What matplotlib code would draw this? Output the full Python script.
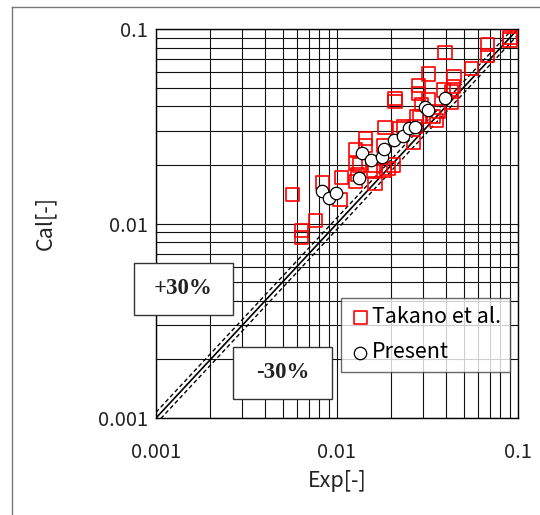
import numpy as np
import matplotlib.pyplot as plt
from matplotlib.patches import Rectangle
from matplotlib.lines import Line2D
from matplotlib.ticker import FixedLocator, NullFormatter

plt.rcParams['font.family'] = ['Noto Sans CJK JP', 'DejaVu Sans']

# Takano et al. (squares)
takano_exp = [0.00569, 0.00638, 0.00638, 0.00764, 0.00834, 0.0106, 0.0104, 0.0126,
              0.0127, 0.0130, 0.0126, 0.0133, 0.0143, 0.0143, 0.0159, 0.0162, 0.0162,
              0.0180, 0.0182, 0.0184, 0.0192, 0.0205, 0.0209, 0.0209, 0.0223, 0.0232,
              0.0264, 0.0270, 0.0276, 0.0281, 0.0281, 0.0287, 0.0294, 0.0320, 0.0320,
              0.0340, 0.0356, 0.0363, 0.0387, 0.0395, 0.0428, 0.0428, 0.0439, 0.0443,
              0.0555, 0.0677, 0.0677, 0.0904, 0.0904]
takano_cal = [0.0141, 0.00919, 0.00849, 0.0104, 0.0162, 0.0173, 0.0133, 0.0239,
              0.0204, 0.0178, 0.0164, 0.0200, 0.0274, 0.0253, 0.0185, 0.0200, 0.0161,
              0.0253, 0.0187, 0.0312, 0.0192, 0.0200, 0.0440, 0.0423, 0.0309, 0.0315,
              0.0262, 0.0315, 0.0354, 0.0514, 0.0467, 0.0354, 0.0410, 0.0587, 0.0432,
              0.0354, 0.0340, 0.0376, 0.0486, 0.0759, 0.0476, 0.0417, 0.0505, 0.0569,
              0.0628, 0.0834, 0.0729, 0.0903, 0.0878]

# Present (circles)
present_exp = [0.00829, 0.00903, 0.00984, 0.0132, 0.01376, 0.0155, 0.0177, 0.0181,
               0.0207, 0.0232, 0.0251, 0.0270, 0.0306, 0.0320, 0.0397]
present_cal = [0.0147, 0.0136, 0.0143, 0.0171, 0.0231, 0.0212, 0.0221, 0.0241,
               0.0268, 0.0282, 0.0309, 0.0315, 0.0399, 0.0383, 0.0440]

ticks = [0.001, 0.01, 0.1]
tick_labels = ['0.001', '0.01', '0.1']
band = 1.07

fig = plt.figure(figsize=(5.4, 5.15), dpi=100)
ax = fig.add_axes([156 / 540, 97 / 515, 362 / 540, 389 / 515])
ax.set_xscale('log')
ax.set_yscale('log')
ax.set_xlim(0.001, 0.1)
ax.set_ylim(0.001, 0.1)

ax.grid(which='both', color='#111111', linewidth=0.8)
ax.set_axisbelow(True)

xs = np.array([0.001, 0.1])
ax.plot(xs, xs, color='black', linewidth=1.2, zorder=2)
ax.plot(xs, xs * band, color='black', linewidth=1.0, linestyle=(0, (3, 2)), zorder=2)
ax.plot(xs, xs / band, color='black', linewidth=1.0, linestyle=(0, (3, 2)), zorder=2)

ax.scatter(takano_exp, takano_cal, marker='s', s=90, facecolor='none',
           edgecolor='#ff0000', linewidth=1.2, zorder=3, label='Takano et al.')
ax.scatter(present_exp, present_cal, marker='o', s=80, facecolor='white',
           edgecolor='black', linewidth=0.9, zorder=4, label='Present')

ax.xaxis.set_major_locator(FixedLocator(ticks))
ax.yaxis.set_major_locator(FixedLocator(ticks))
ax.set_xticklabels(tick_labels)
ax.set_yticklabels(tick_labels)
ax.xaxis.set_minor_formatter(NullFormatter())
ax.yaxis.set_minor_formatter(NullFormatter())
ax.tick_params(which='both', length=0, labelsize=14.5, colors='#222222')
ax.tick_params(axis='x', pad=17)
ax.tick_params(axis='y', pad=6)
for s in ax.spines.values():
    s.set_color('black')
    s.set_linewidth(1.0)

ax.set_xlabel('Exp[-]', fontsize=15.5, color='#222222', labelpad=5)
ax.set_ylabel('Cal[-]', fontsize=15.5, color='#222222', labelpad=30)

leg = ax.legend(loc='lower left', bbox_to_anchor=((341 - 156) / 362, (418 - 372) / 389),
                fontsize=15.5, frameon=True, fancybox=False, borderaxespad=0,
                handletextpad=0.05, handlelength=1.0, borderpad=0.4, labelspacing=0.6,
                markerscale=1.0)
leg.get_frame().set_edgecolor('#444444')
leg.get_frame().set_linewidth(1.0)
leg.set_zorder(5)

# +30% / -30% boxes
boxes = [('+30%', 134, 263, 99, 52), ('-30%', 233, 347, 99, 52)]
for label, bx, by, bw, bh in boxes:
    rect = Rectangle((bx / 540, 1 - (by + bh) / 515), bw / 540, bh / 515,
                     transform=fig.transFigure, facecolor='white',
                     edgecolor='#333333', linewidth=1.0, zorder=6)
    fig.add_artist(rect)
    fig.text((bx + bw / 2) / 540, 1 - (by + bh / 2) / 515, label,
             ha='center', va='center', fontsize=16.5, fontweight='bold',
             family=['Liberation Serif', 'DejaVu Serif'], color='#222222', zorder=7)

# outer frame
fig.add_artist(Line2D([12 / 540, 12 / 540], [0, 1 - 7 / 515], transform=fig.transFigure,
                      color='#777777', linewidth=1.0))
fig.add_artist(Line2D([12 / 540, 1], [1 - 7 / 515, 1 - 7 / 515], transform=fig.transFigure,
                      color='#777777', linewidth=1.0))

fig.savefig('out.png', dpi=100)
